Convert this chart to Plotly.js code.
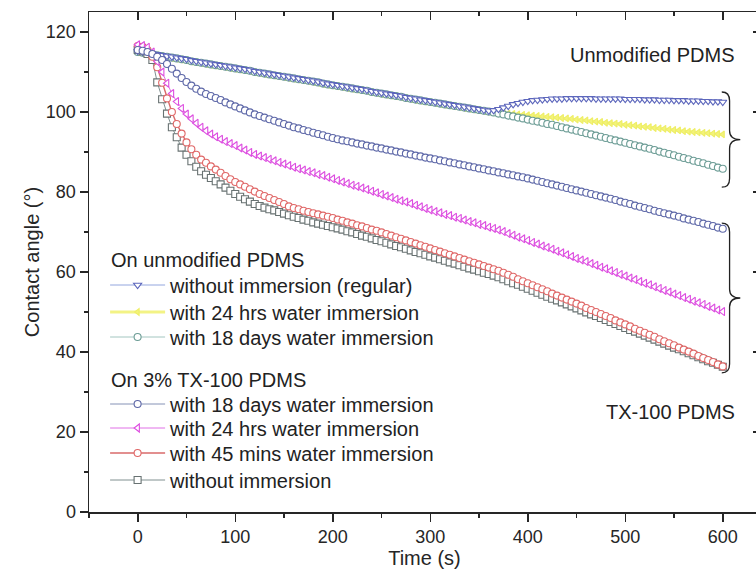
<!DOCTYPE html>
<html>
<head>
<meta charset="utf-8">
<script src="https://cdn.plot.ly/plotly-3.0.1.min.js"></script>
<style>
html,body{margin:0;padding:0;background:#fff;overflow:hidden;}
#chart{width:762px;height:575px;}
</style>
</head>
<body>
<div id="chart"></div>
<script>
// ---------- DATA ----------
const timeS = [0,5,10,15,20,25,30,35,40,45,50,55,60,65,70,75,80,85,90,95,
100,105,110,115,120,125,130,135,140,145,150,155,160,165,170,175,180,185,190,195,
200,205,210,215,220,225,230,235,240,245,250,255,260,265,270,275,280,285,290,295,
300,305,310,315,320,325,330,335,340,345,350,355,360,365,370,375,380,385,390,395,
400,405,410,415,420,425,430,435,440,445,450,455,460,465,470,475,480,485,490,495,
500,505,510,515,520,525,530,535,540,545,550,555,560,565,570,575,580,585,590,595,600];

// On unmodified PDMS
const unmodRegular = [115.2,115.0,114.8,114.6,114.4,114.2,114.0,113.8,113.6,113.4,
113.2,112.9,112.7,112.5,112.3,112.1,111.9,111.7,111.5,111.3,
111.1,110.9,110.7,110.5,110.2,110.0,109.8,109.6,109.4,109.2,
109.0,108.8,108.6,108.4,108.2,108.0,107.8,107.6,107.3,107.1,
106.9,106.7,106.5,106.3,106.1,105.9,105.7,105.5,105.2,105.0,
104.8,104.6,104.4,104.2,104.0,103.7,103.5,103.3,103.1,102.9,
102.7,102.5,102.3,102.1,101.9,101.7,101.5,101.3,101.1,100.9,
100.7,100.5,100.3,100.4,100.7,101.1,101.5,101.9,102.2,102.5,
102.7,102.9,103.0,103.1,103.2,103.3,103.3,103.3,103.4,103.4,
103.4,103.4,103.4,103.4,103.3,103.3,103.3,103.3,103.3,103.3,
103.2,103.2,103.2,103.2,103.1,103.1,103.1,103.0,103.0,103.0,
102.9,102.9,102.9,102.8,102.8,102.8,102.7,102.7,102.6,102.6,
102.5];

const unmod24h = [114.9,114.7,114.5,114.3,114.1,113.9,113.7,113.5,113.3,113.1,
112.9,112.6,112.4,112.2,112.0,111.8,111.6,111.4,111.2,111.0,
110.8,110.6,110.4,110.2,109.9,109.7,109.5,109.3,109.1,108.9,
108.7,108.5,108.3,108.1,107.9,107.7,107.5,107.3,107.0,106.8,
106.6,106.4,106.2,106.0,105.8,105.6,105.4,105.2,104.9,104.7,
104.5,104.3,104.1,103.9,103.7,103.4,103.2,103.0,102.8,102.6,
102.4,102.2,102.0,101.8,101.6,101.4,101.2,101.0,100.8,100.6,
100.4,100.2,100.1,99.9,99.8,99.7,99.6,99.5,99.4,99.3,
99.2,99.1,99.0,98.9,98.8,98.7,98.6,98.5,98.4,98.3,
98.1,98.0,97.9,97.7,97.6,97.5,97.3,97.2,97.1,97.0,
96.8,96.7,96.6,96.4,96.3,96.2,96.0,95.9,95.8,95.6,
95.5,95.4,95.2,95.1,95.0,94.9,94.8,94.7,94.6,94.5,
94.4];

const unmod18d = [115.0,114.8,114.6,114.4,114.2,114.0,113.8,113.6,113.4,113.2,
113.0,112.7,112.5,112.3,112.1,111.9,111.7,111.5,111.3,111.1,
110.9,110.7,110.5,110.3,110.0,109.8,109.6,109.4,109.2,109.0,
108.8,108.6,108.4,108.2,108.0,107.8,107.6,107.4,107.1,106.9,
106.7,106.5,106.3,106.1,105.9,105.7,105.5,105.3,105.0,104.8,
104.6,104.4,104.2,104.0,103.8,103.5,103.3,103.1,102.9,102.7,
102.5,102.3,102.1,101.9,101.7,101.5,101.3,101.1,100.9,100.7,
100.5,100.3,100.1,99.9,99.6,99.4,99.1,98.9,98.6,98.4,
98.1,97.8,97.6,97.3,97.0,96.8,96.5,96.2,95.9,95.6,
95.3,95.0,94.7,94.4,94.1,93.8,93.5,93.2,92.9,92.6,
92.3,92.0,91.7,91.4,91.1,90.8,90.5,90.1,89.8,89.5,
89.2,88.8,88.5,88.2,87.8,87.5,87.2,86.8,86.5,86.1,
85.8];

// On 3% TX-100 PDMS
const tx18d = [115.5,115.3,115.0,114.5,113.8,113.0,112.0,110.8,109.6,108.5,
107.5,106.6,105.8,105.1,104.5,104.0,103.5,103.0,102.4,101.9,
101.4,100.9,100.4,99.9,99.4,99.0,98.6,98.2,97.8,97.4,
97.0,96.6,96.2,95.9,95.5,95.2,94.8,94.5,94.2,93.8,
93.5,93.2,92.9,92.7,92.4,92.1,91.9,91.6,91.4,91.1,
90.9,90.6,90.4,90.1,89.9,89.6,89.4,89.1,88.9,88.6,
88.4,88.2,87.9,87.7,87.4,87.2,86.9,86.7,86.4,86.2,
85.9,85.7,85.4,85.2,84.9,84.7,84.4,84.2,83.9,83.7,
83.4,83.1,82.8,82.5,82.2,81.9,81.6,81.3,81.0,80.7,
80.4,80.1,79.8,79.5,79.2,78.9,78.6,78.3,78.0,77.6,
77.3,77.0,76.6,76.3,76.0,75.7,75.3,75.0,74.7,74.4,
74.1,73.8,73.4,73.1,72.8,72.5,72.1,71.8,71.5,71.1,
70.8];

const tx24h = [116.8,116.6,116.2,115.0,112.6,110.0,107.2,104.6,102.6,100.9,
99.5,98.3,97.2,96.2,95.3,94.5,93.8,93.2,92.6,92.1,
91.6,91.0,90.5,89.9,89.4,89.0,88.6,88.2,87.8,87.4,
87.0,86.6,86.2,85.8,85.5,85.1,84.8,84.4,84.1,83.7,
83.3,82.9,82.5,82.1,81.7,81.4,81.0,80.6,80.2,79.8,
79.4,79.0,78.6,78.2,77.8,77.5,77.1,76.7,76.3,75.9,
75.5,75.1,74.8,74.4,74.1,73.7,73.4,73.0,72.6,72.3,
71.9,71.6,71.2,70.9,70.5,70.1,69.6,69.2,68.7,68.3,
67.9,67.4,67.0,66.5,66.1,65.7,65.2,64.8,64.3,63.9,
63.4,63.0,62.6,62.1,61.7,61.2,60.8,60.3,59.9,59.4,
59.0,58.5,58.1,57.6,57.2,56.8,56.3,55.9,55.4,55.0,
54.5,54.1,53.6,53.2,52.7,52.3,51.9,51.4,51.0,50.5,
50.1];

const tx45m = [116.5,116.3,115.5,113.8,111.2,107.3,103.4,100.0,97.0,94.6,
92.4,90.7,89.3,88.1,87.3,86.4,85.6,84.8,84.0,83.2,
82.5,81.9,81.3,80.7,80.1,79.5,79.0,78.5,78.0,77.5,
77.0,76.4,76.0,75.7,75.3,75.0,74.7,74.4,74.1,73.8,
73.5,73.1,72.8,72.4,72.1,71.7,71.4,71.0,70.6,70.3,
69.9,69.5,69.1,68.7,68.3,67.9,67.5,67.1,66.7,66.3,
65.9,65.5,65.1,64.7,64.3,63.9,63.5,63.1,62.7,62.3,
61.9,61.5,61.1,60.7,60.3,59.8,59.3,58.8,58.2,57.7,
57.2,56.7,56.2,55.7,55.2,54.6,54.1,53.6,53.1,52.6,
52.1,51.6,51.0,50.5,50.0,49.5,49.0,48.5,47.9,47.4,
46.9,46.4,45.8,45.3,44.8,44.3,43.8,43.2,42.7,42.2,
41.7,41.1,40.6,40.1,39.6,39.0,38.5,38.0,37.5,36.9,
36.4];

const txNone = [115.5,115.2,114.5,113.0,107.4,103.2,99.6,96.2,93.7,91.1,
89.3,87.7,86.3,85.2,84.3,83.5,82.7,81.9,81.1,80.3,
79.5,78.8,78.2,77.6,77.0,76.5,76.1,75.7,75.4,75.0,
74.6,74.2,73.8,73.5,73.1,72.8,72.4,72.1,71.8,71.5,
71.2,70.9,70.6,70.2,69.9,69.5,69.1,68.8,68.4,68.0,
67.7,67.3,66.9,66.5,66.2,65.8,65.4,65.0,64.7,64.3,
63.9,63.6,63.2,62.8,62.4,62.1,61.7,61.3,60.9,60.6,
60.2,59.8,59.5,59.1,58.7,58.2,57.7,57.2,56.8,56.3,
55.8,55.3,54.8,54.3,53.8,53.3,52.9,52.4,51.9,51.4,
50.9,50.4,49.9,49.4,49.0,48.5,48.0,47.5,47.0,46.5,
46.0,45.5,45.1,44.6,44.1,43.6,43.1,42.6,42.1,41.6,
41.1,40.7,40.2,39.7,39.2,38.7,38.2,37.7,37.3,36.8,
36.3];

const groupTitles = ['On unmodified PDMS', 'On 3% TX-100 PDMS'];
const seriesNames = ['without immersion (regular)', 'with 24 hrs water immersion', 'with 18 days water immersion',
  'with 18 days water immersion', 'with 24 hrs water immersion', 'with 45 mins water immersion', 'without immersion'];
const sideLabels = ['Unmodified PDMS', 'TX-100 PDMS'];

// ---------- TRACES ----------
// Origin-style "open" symbols: white-filled with a coloured outline
function mk(y, name, legendId, symbol, mcolor, lcolor, lwidth, fill, msize) {
  return {
    x: timeS, y: y, name: name, type: 'scatter', mode: 'lines+markers',
    legend: legendId,
    line: {color: lcolor, width: lwidth},
    marker: {symbol: symbol, size: msize || 7, color: fill,
      line: {color: mcolor, width: 1.1}}
  };
}
const tUnmodReg = mk(unmodRegular, seriesNames[0], 'legend', 'triangle-down', '#5c66bc', '#93a6de', 1, '#ffffff');
const tUnmod24 = mk(unmod24h, seriesNames[1], 'legend2', 'triangle-left', '#eeee66', '#f3f385', 3, '#f3f37a', 6);
const tUnmod18 = mk(unmod18d, seriesNames[2], 'legend3', 'circle', '#6d9d96', '#a3c6c0', 1, '#ffffff');
const tTx18 = mk(tx18d, seriesNames[3], 'legend4', 'circle', '#5e68a8', '#8592b6', 1, '#ffffff');
const tTx24 = mk(tx24h, seriesNames[4], 'legend5', 'triangle-left', '#dd4ee0', '#e070e6', 1, '#ffffff');
const tTx45 = mk(tx45m, seriesNames[5], 'legend6', 'circle', '#e06868', '#d86a6a', 1.4, '#ffffff');
const tTxNone = mk(txNone, seriesNames[6], 'legend7', 'square', '#687272', '#809090', 1, '#ffffff');

const dummy = {x: [], y: [], xaxis: 'x2', yaxis: 'y2', type: 'scatter', showlegend: false, hoverinfo: 'skip'};

const data = [tUnmod24, tUnmod18, tUnmodReg, tTxNone, tTx45, tTx24, tTx18, dummy];

// brace helper (decoration only, in data units)
function brace(yTop, yBot) {
  const x0 = 599, x1 = 607, xt = 618, r = 2.2;
  const ym = (yTop + yBot) / 2;
  return `M${x0},${yTop} Q${x1},${yTop} ${x1},${yTop - r} L${x1},${ym + r} Q${x1},${ym} ${xt},${ym} ` +
         `Q${x1},${ym} ${x1},${ym - r} L${x1},${yBot + r} Q${x1},${yBot} ${x0},${yBot}`;
}

const axisCommon = {
  showgrid: false, zeroline: false, showline: true, linecolor: '#262626', linewidth: 1.5,
  ticks: 'outside', ticklen: 8, tickwidth: 1.5, tickcolor: '#262626',
  tickfont: {size: 18, color: '#262626'}
};

function legendAt(yPaper) {
  return {x: 0.024, y: yPaper, xanchor: 'left', yanchor: 'middle',
    bgcolor: 'rgba(0,0,0,0)', borderwidth: 0, font: {size: 20, color: '#222'}, itemwidth: 55};
}

const layout = {
  width: 762, height: 575,
  margin: {l: 89, r: 2, t: 12, b: 63},
  paper_bgcolor: '#ffffff', plot_bgcolor: '#ffffff',
  font: {family: 'Liberation Sans, Arial, Helvetica, sans-serif', color: '#222'},
  showlegend: true,
  xaxis: Object.assign({}, axisCommon, {
    range: [-50, 638.2], tick0: 0, dtick: 100, mirror: true,
    minor: {dtick: 50, tick0: 0, ticks: 'outside', ticklen: 4, tickwidth: 1.5, tickcolor: '#262626'},
    title: {text: 'Time (s)', font: {size: 20, color: '#262626'}, standoff: 5}
  }),
  yaxis: Object.assign({}, axisCommon, {
    range: [0, 125], tick0: 0, dtick: 20, mirror: true,
    minor: {dtick: 10, tick0: 0, ticks: 'outside', ticklen: 4, tickwidth: 1.5, tickcolor: '#262626'},
    title: {text: 'Contact angle (°)', font: {size: 20, color: '#262626'}, standoff: 1}
  }),
  xaxis2: {overlaying: 'x', side: 'top', anchor: 'y2', range: [-50, 638.2], tick0: 0, dtick: 100,
    showgrid: false, zeroline: false, showline: false, showticklabels: false,
    ticks: 'inside', ticklen: 8, tickwidth: 1.5, tickcolor: '#262626',
    minor: {dtick: 50, tick0: 0, ticks: 'inside', ticklen: 4, tickwidth: 1.5, tickcolor: '#262626'}},
  yaxis2: {overlaying: 'y', side: 'right', anchor: 'x2', range: [0, 125], tick0: 0, dtick: 20,
    showgrid: false, zeroline: false, showline: false, showticklabels: false,
    ticks: 'inside', ticklen: 7, tickwidth: 1.5, tickcolor: '#262626',
    minor: {dtick: 10, tick0: 0, ticks: 'inside', ticklen: 4, tickwidth: 1.5, tickcolor: '#262626'}},
  legend: legendAt(0.454),
  legend2: legendAt(0.400),
  legend3: legendAt(0.350),
  legend4: legendAt(0.216),
  legend5: legendAt(0.168),
  legend6: legendAt(0.118),
  legend7: legendAt(0.064),
  annotations: [
    {text: groupTitles[0], xref: 'paper', yref: 'paper', x: 0.030, y: 0.504, xanchor: 'left', yanchor: 'middle',
     showarrow: false, font: {size: 20, color: '#222'}},
    {text: groupTitles[1], xref: 'paper', yref: 'paper', x: 0.030, y: 0.264, xanchor: 'left', yanchor: 'middle',
     showarrow: false, font: {size: 20, color: '#222'}},
    {text: sideLabels[0], xref: 'paper', yref: 'paper', x: 0.9657, y: 0.914, xanchor: 'right', yanchor: 'middle',
     showarrow: false, font: {size: 20, color: '#222'}},
    {text: sideLabels[1], xref: 'paper', yref: 'paper', x: 0.9657, y: 0.2, xanchor: 'right', yanchor: 'middle',
     showarrow: false, font: {size: 20, color: '#222'}}
  ],
  shapes: [
    {type: 'path', xref: 'x', yref: 'y', path: brace(105, 81.2), line: {color: '#222', width: 1.3}},
    {type: 'path', xref: 'x', yref: 'y', path: brace(72.2, 34.8), line: {color: '#222', width: 1.3}}
  ]
};

Plotly.newPlot('chart', data, layout, {displayModeBar: false, staticPlot: true});
</script>
</body>
</html>
